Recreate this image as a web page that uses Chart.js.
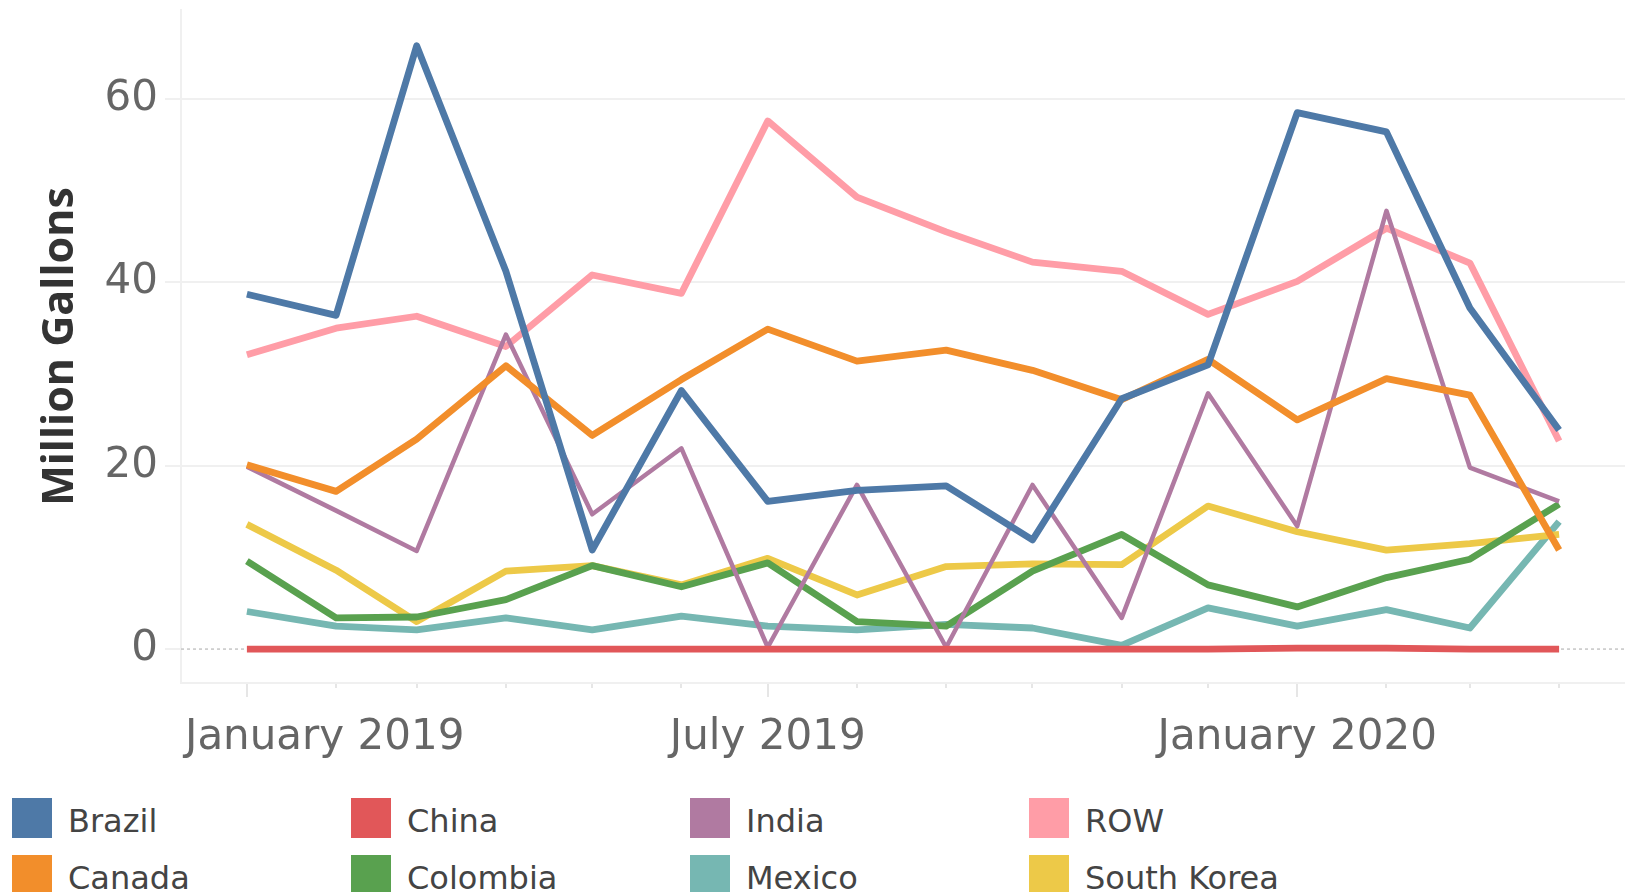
<!DOCTYPE html>
<html>
<head>
<meta charset="utf-8">
<title>Million Gallons by country</title>
<script src="https://cdn.jsdelivr.net/npm/chart.js@4.4.1/dist/chart.umd.min.js"></script>
<style>
  html, body { margin: 0; padding: 0; background: #fff; overflow: hidden; }
  #wrap { position: relative; width: 1637px; height: 892px; }
  #chart { position: absolute; left: 0; top: 0; }
  #legend {
    position: absolute; left: 12px; top: 798px;
    display: grid; grid-auto-flow: column;
    grid-template-rows: repeat(2, 57px); grid-auto-columns: 339px;
    font-family: "DejaVu Sans"; font-size: 32px; color: #444;
  }
  .item { display: flex; align-items: flex-start; height: 57px; }
  .swatch { width: 40px; height: 40px; margin-right: 16px; flex: none; }
  .label { line-height: 40px; padding-top: 3px; white-space: nowrap; }
</style>
</head>
<body>
<div id="wrap">
  <canvas id="chart" width="1637" height="790"></canvas>
  <div id="legend"></div>
</div>
<script>
// monthly imports, million gallons
const months = ['2019-01', '2019-02', '2019-03', '2019-04', '2019-05', '2019-06', '2019-07', '2019-08',
                '2019-09', '2019-10', '2019-11', '2019-12', '2020-01', '2020-02', '2020-03', '2020-04'];

const brazil     = [38.7, 36.4, 65.8, 41.2, 10.8, 28.2, 16.1, 17.3, 17.8, 11.9, 27.3, 31.0, 58.5, 56.4, 37.2, 23.9];
const canada     = [20.1, 17.2, 22.9, 30.9, 23.3, 29.4, 34.9, 31.4, 32.6, 30.4, 27.2, 31.6, 25.0, 29.5, 27.7, 10.8];
const china      = [0, 0, 0, 0, 0, 0, 0, 0, 0, 0, 0, 0, 0.1, 0.1, 0, 0];
const colombia   = [9.6, 3.4, 3.5, 5.4, 9.1, 6.8, 9.4, 3.0, 2.5, 8.5, 12.5, 7.0, 4.6, 7.8, 9.8, 15.8];
const india      = [19.9, 15.1, 10.7, 34.3, 14.7, 21.9, 0.2, 17.9, 0.2, 17.9, 3.4, 27.9, 13.4, 47.8, 19.8, 16.1];
const mexico     = [4.1, 2.5, 2.1, 3.4, 2.1, 3.6, 2.5, 2.1, 2.7, 2.3, 0.4, 4.5, 2.5, 4.3, 2.3, 13.9];
const row        = [32.1, 35.0, 36.3, 33.0, 40.8, 38.8, 57.6, 49.3, 45.5, 42.2, 41.2, 36.5, 40.1, 45.9, 42.1, 22.7];
const southKorea = [13.6, 8.6, 3.0, 8.5, 9.1, 7.0, 9.9, 5.9, 9.0, 9.3, 9.2, 15.6, 12.8, 10.8, 11.5, 12.5];

const yTicks = [0, 20, 40, 60];
const xTickMonths = ['2019-01', '2019-07', '2020-01'];
const xTickLabels = ['January 2019', 'July 2019', 'January 2020'];

// legend order; `order` sets which line sits on top (lower = on top)
const series = [
  { name: 'Brazil',      color: '#4e79a7', values: brazil,     order: 1 },
  { name: 'Canada',      color: '#f28e2b', values: canada,     order: 2 },
  { name: 'China',       color: '#e15759', values: china,      order: 0 },
  { name: 'Colombia',    color: '#59a14f', values: colombia,   order: 4 },
  { name: 'India',       color: '#b07aa1', values: india,      order: 3, width: 4.5 },
  { name: 'Mexico',      color: '#76b7b2', values: mexico,     order: 6 },
  { name: 'ROW',         color: '#ff9da7', values: row,        order: 7 },
  { name: 'South Korea', color: '#edc948', values: southKorea, order: 5 }
];

// x is a continuous date axis: days since 1 Jan 2019
const DAY = 86400000;
const t0 = Date.UTC(2019, 0, 1);
const dayOf = m => (Date.UTC(+m.slice(0, 4), +m.slice(5, 7) - 1, 1) - t0) / DAY;
const monthDays = months.map(dayOf);

const datasets = series.map(s => ({
  label: s.name,
  data: s.values.map((v, i) => ({ x: monthDays[i], y: v })),
  borderColor: s.color,
  backgroundColor: s.color,
  borderWidth: s.width || 6.8,
  borderJoinStyle: 'round',
  pointRadius: 0,
  tension: 0,
  order: s.order
}));

const GRID = '#f0f0f0';

// zero line, bottom axis, month ticks and date labels
const axisDecor = {
  id: 'axisDecor',
  beforeDatasetsDraw(chart) {
    const { ctx, chartArea: a, scales: { x, y } } = chart;
    ctx.save();
    const y0 = y.getPixelForValue(0);
    ctx.strokeStyle = '#c6c6c6';
    ctx.lineWidth = 1.5;
    ctx.setLineDash([3, 3]);
    ctx.beginPath();
    ctx.moveTo(a.left, y0);
    ctx.lineTo(a.right, y0);
    ctx.stroke();
    ctx.setLineDash([]);

    ctx.strokeStyle = GRID;
    ctx.lineWidth = 2;
    ctx.beginPath();
    ctx.moveTo(a.left - 1, a.bottom);
    ctx.lineTo(a.right, a.bottom);
    ctx.stroke();

    ctx.strokeStyle = '#e6e6e6';
    months.forEach(m => {
      const px = Math.round(x.getPixelForValue(dayOf(m)));
      const len = xTickMonths.includes(m) ? 14 : 5;
      ctx.beginPath();
      ctx.moveTo(px, a.bottom + 1);
      ctx.lineTo(px, a.bottom + len);
      ctx.stroke();
    });
    ctx.restore();
  },
  afterDraw(chart) {
    const { ctx, chartArea: a, scales: { x } } = chart;
    ctx.save();
    ctx.font = '42px "DejaVu Sans"';
    ctx.fillStyle = '#666';
    ctx.textBaseline = 'alphabetic';
    ctx.textAlign = 'left';
    xTickMonths.forEach((m, i) => {
      const px = x.getPixelForValue(dayOf(m));
      const w = ctx.measureText(xTickLabels[i]).width;
      const left = Math.max(a.left + 4, px - w / 2);
      ctx.fillText(xTickLabels[i], left, a.bottom + 66);
    });
    ctx.restore();
  }
};

new Chart(document.getElementById('chart'), {
  type: 'line',
  data: { datasets },
  plugins: [axisDecor],
  options: {
    responsive: false,
    animation: false,
    devicePixelRatio: 1,
    layout: { padding: { top: 10, right: 12, left: 0, bottom: 0 } },
    plugins: { legend: { display: false }, tooltip: { enabled: false } },
    scales: {
      x: {
        type: 'linear',
        min: -22.9,
        max: 478.9,
        ticks: { display: false },
        grid: { display: false },
        border: { display: false },
        afterFit(scale) {
          scale.height = 107;
          scale.paddingLeft = 0;
          scale.paddingRight = 0;
        }
      },
      y: {
        min: -3.7,
        max: 69.7,
        afterBuildTicks(scale) { scale.ticks = yTicks.map(v => ({ value: v })); },
        afterFit(scale) {
          scale.width = 181;
          scale.paddingTop = 0;
          scale.paddingBottom = 0;
        },
        ticks: {
          color: '#666',
          padding: 7,
          font: { family: 'DejaVu Sans', size: 42 }
        },
        grid: {
          color: c => (c.tick && c.tick.value === 0 ? 'rgba(0,0,0,0)' : GRID),
          tickColor: GRID,
          lineWidth: 2,
          tickLength: 16
        },
        border: { display: true, color: GRID, width: 2 },
        title: {
          display: true,
          text: 'Million Gallons',
          color: '#333',
          font: { family: 'Open Sans', size: 43, weight: 'bold' },
          padding: { top: 35, bottom: 0 }
        }
      }
    }
  }
});

// legend, laid out in columns like the source
const legend = document.getElementById('legend');
series.forEach(s => {
  const item = document.createElement('div');
  item.className = 'item';
  const sw = document.createElement('span');
  sw.className = 'swatch';
  sw.style.background = s.color;
  const lb = document.createElement('span');
  lb.className = 'label';
  lb.textContent = s.name;
  item.append(sw, lb);
  legend.appendChild(item);
});
</script>
</body>
</html>
